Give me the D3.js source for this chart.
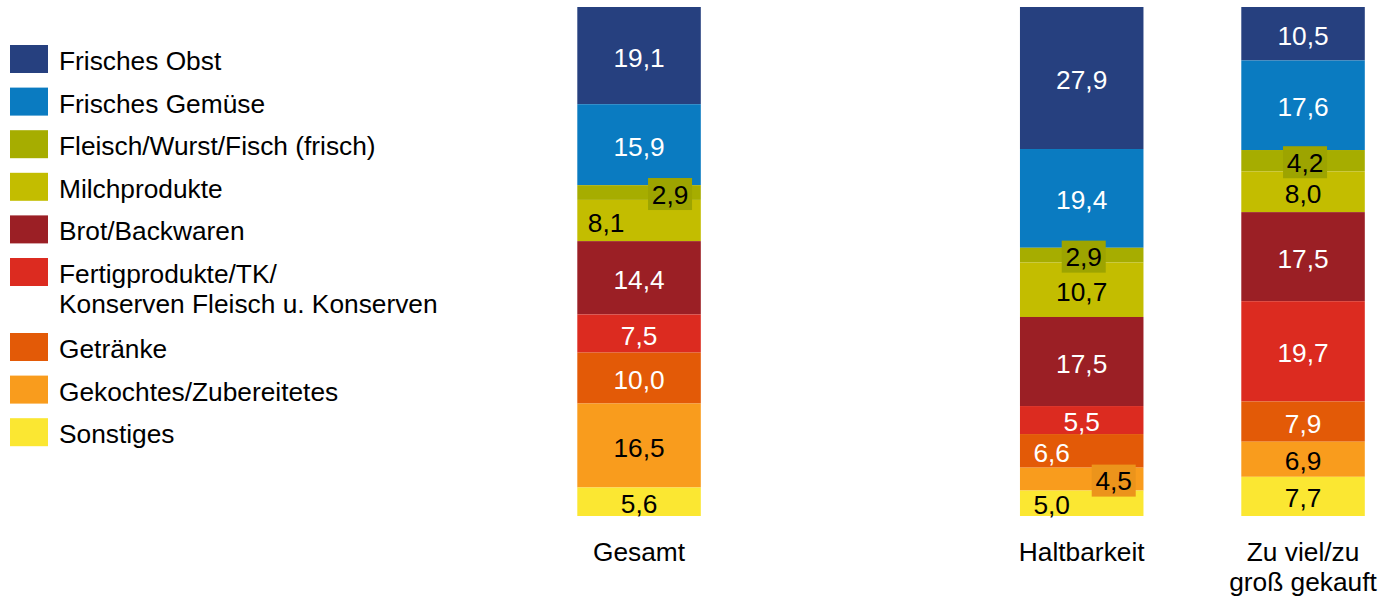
<!DOCTYPE html>
<html lang="de">
<head>
<meta charset="utf-8">
<title>Lebensmittelabfälle nach Warengruppen</title>
<script src="https://cdn.jsdelivr.net/npm/d3@7"></script>
<style>
  html, body { margin: 0; padding: 0; background: #ffffff; }
  svg { display: block; font-family: "Liberation Sans", Arial, Helvetica, sans-serif; }
</style>
</head>
<body>
<svg id="chart" width="1383" height="598"></svg>
<script>
// Warengruppen (von oben nach unten gestapelt)
const groups = [
  "Frisches Obst",
  "Frisches Gemüse",
  "Fleisch/Wurst/Fisch (frisch)",
  "Milchprodukte",
  "Brot/Backwaren",
  "Fertigprodukte/TK/\nKonserven Fleisch u. Konserven",
  "Getränke",
  "Gekochtes/Zubereitetes",
  "Sonstiges"
];

// Säulen
const categories = ["Gesamt", "Haltbarkeit", "Zu viel/zu\ngroß gekauft"];

// Anteile in Prozent je Säule, Reihenfolge wie groups
const gesamt      = [19.1, 15.9, 2.9, 8.1, 14.4, 7.5, 10.0, 16.5, 5.6];
const haltbarkeit = [27.9, 19.4, 2.9, 10.7, 17.5, 5.5, 6.6, 4.5, 5.0];
const zuViel      = [10.5, 17.6, 4.2, 8.0, 17.5, 19.7, 7.9, 6.9, 7.7];

const seriesByCategory = [gesamt, haltbarkeit, zuViel];

const colors = [
  "#26407f", "#0a7bc1", "#a6ad00", "#c3bd00", "#9b1f25",
  "#dc2b20", "#e35a07", "#f99c1d", "#fbe732"
];
const darkText = new Set([2, 3, 7, 8]);

// Beschriftungen kleiner Segmente: seitlich versetzt, teils mit Hinterlegung
const labelTweaks = {
  "0-2": { dx: 31, box: true },
  "0-3": { dx: -33 },
  "1-2": { dx: 2, box: true },
  "1-6": { dx: -30 },
  "1-7": { dx: 32, box: true },
  "1-8": { dx: -30 },
  "2-2": { dx: 2, box: true }
};

const svg = d3.select("#chart");
const fontSize = 26.3;

const de = d3.formatLocale({ decimal: ",", thousands: ".", grouping: [3], currency: ["", " €"] });
const fmt = de.format(".1f");

// Zwischen "Gesamt" und den Gründen bleibt ein leerer Platz
const slots = [categories[0], "__gap__", categories[1], categories[2]];
const x = d3.scaleBand()
  .domain(slots)
  .range([577.3, 1364.8])
  .paddingInner(0.442)
  .paddingOuter(0);

const y = d3.scaleLinear().domain([0, 100]).range([7, 516]);

// Tabelle für d3.stack
const table = categories.map((c, ci) => {
  const row = { category: c };
  groups.forEach((g, gi) => { row[g] = seriesByCategory[ci][gi]; });
  return row;
});

const stacked = d3.stack().keys(groups).order(d3.stackOrderNone).offset(d3.stackOffsetNone)(table);

const layers = svg.append("g").attr("class", "bars")
  .selectAll("g")
  .data(stacked)
  .join("g")
  .attr("fill", (d, i) => colors[i]);

layers.selectAll("rect")
  .data(d => d)
  .join("rect")
  .attr("x", d => x(d.data.category))
  .attr("y", d => y(d[0]))
  .attr("width", x.bandwidth())
  .attr("height", d => y(d[1]) - y(d[0]));

// Wertbeschriftungen
const labels = svg.append("g").attr("class", "labels")
  .attr("font-size", fontSize)
  .attr("text-anchor", "middle");

stacked.forEach((layer, gi) => {
  layer.forEach((d, ci) => {
    const key = ci + "-" + gi;
    const tw = labelTweaks[key] || { dx: 0 };
    const cx = x(d.data.category) + x.bandwidth() / 2 + tw.dx;
    const mid = (y(d[0]) + y(d[1])) / 2;
    const txt = fmt(d[1] - d[0]);
    if (tw.box) {
      const w = txt.length * 12 + 8;
      labels.append("rect")
        .attr("x", cx - w / 2)
        .attr("y", mid + 1.5 - 16)
        .attr("width", w)
        .attr("height", 32)
        .attr("fill", d3.color(colors[gi]).darker(0.15));
    }
    labels.append("text")
      .attr("x", cx)
      .attr("y", mid + 11)
      .attr("fill", darkText.has(gi) ? "#000000" : "#ffffff")
      .text(txt);
  });
});

// Kategorienbeschriftung unter den Säulen
const catLabels = svg.append("g").attr("class", "categories")
  .attr("font-size", fontSize)
  .attr("text-anchor", "middle")
  .attr("fill", "#000000");

categories.forEach(c => {
  const t = catLabels.append("text")
    .attr("x", x(c) + x.bandwidth() / 2)
    .attr("y", 561);
  c.split("\n").forEach((line, li) => {
    t.append("tspan")
      .attr("x", x(c) + x.bandwidth() / 2)
      .attr("dy", li === 0 ? 0 : 30)
      .text(line);
  });
});

// Legende
const legend = svg.append("g").attr("class", "legend")
  .attr("font-size", fontSize)
  .attr("fill", "#000000");

let rowTop = 45;
groups.forEach((g, gi) => {
  const lines = g.split("\n");
  legend.append("rect")
    .attr("x", 10)
    .attr("y", rowTop)
    .attr("width", 38)
    .attr("height", 28)
    .attr("fill", colors[gi]);
  const t = legend.append("text").attr("x", 59).attr("y", rowTop + 25);
  lines.forEach((line, li) => {
    t.append("tspan")
      .attr("x", 59)
      .attr("dy", li === 0 ? 0 : 30)
      .text(line);
  });
  rowTop += 42.6 + (lines.length - 1) * 32.4;
});
</script>
</body>
</html>
